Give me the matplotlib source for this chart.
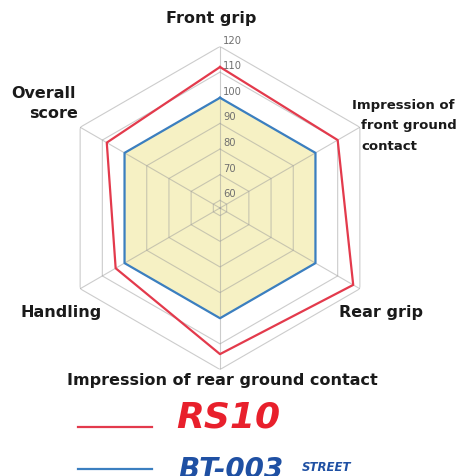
import numpy as np
import matplotlib
matplotlib.use("Agg")
import matplotlib.pyplot as plt
from matplotlib.transforms import offset_copy
from matplotlib.lines import Line2D

categories = ["Front grip", "Impression of front ground contact", "Rear grip",
              "Impression of rear ground contact", "Handling", "Overall score"]
rs10 = [112, 110, 117, 114, 104, 108]
bt003 = [100, 100, 100, 100, 100, 100]
ring_levels = [60, 70, 80, 90, 100, 110, 120]
tick_labels = ["60", "70", "80", "90", "100", "110", "120"]
r_min = 57

W, H = 463, 476
fig = plt.figure(figsize=(W / 100, H / 100), dpi=100)
fig.patch.set_facecolor("white")

cx, cy, R = 220, 208, 161.5
ax = fig.add_axes([(cx - R) / W, 1 - (cy + R) / H, 2 * R / W, 2 * R / H], projection="polar")
ax.set_theta_offset(np.pi / 2)
ax.set_theta_direction(-1)
ax.set_ylim(r_min, 120)
ax.set_axis_off()

n = len(categories)
theta = np.arange(n) * 2 * np.pi / n
theta_c = np.append(theta, theta[0])

def closed(v):
    return np.append(np.asarray(v, float), v[0])

ax.fill(theta_c, closed(bt003), color="#f6f1c4", zorder=1, lw=0)

for lvl in ring_levels:
    ax.plot(theta_c, [lvl] * (n + 1), color="#9a9a9a", alpha=0.5, lw=0.8, zorder=2)
for t in theta:
    ax.plot([t, t], [r_min, 120], color="#9a9a9a", alpha=0.5, lw=0.8, zorder=2)

ax.plot(theta_c, closed(bt003), color="#3b7fc0", lw=1.6, zorder=4)
ax.plot(theta_c, closed(rs10), color="#e33a4c", lw=1.6, zorder=5)

tr = offset_copy(ax.transData, fig=fig, x=3, y=6, units="dots")
for lvl, lab in zip(ring_levels, tick_labels):
    ax.text(0, lvl, lab, transform=tr, ha="left", va="center", fontsize=7.2,
            color="#707070", zorder=6)

def ftext(x, y, s, **kw):
    fig.text(x / W, 1 - y / H, s, **kw)

lab_kw = dict(fontsize=11.5, fontweight="bold", color="#1a1a1a", va="center",
              family="DejaVu Sans")
sm_kw = dict(lab_kw, fontsize=9.5)
ftext(211, 18, "Front grip", ha="center", **lab_kw)
ftext(352, 105, "Impression of", ha="left", **sm_kw)
ftext(361, 126, "front ground", ha="left", **sm_kw)
ftext(361, 146, "contact", ha="left", **sm_kw)
ftext(76, 94, "Overall", ha="right", **lab_kw)
ftext(78, 114, "score", ha="right", **lab_kw)
ftext(20, 312, "Handling", ha="left", **lab_kw)
ftext(423, 312, "Rear grip", ha="right", **lab_kw)
ftext(222, 381, "Impression of rear ground contact", ha="center", **lab_kw)

fig.add_artist(Line2D([78 / W, 152 / W], [1 - 427 / H] * 2, color="#e33a4c", lw=1.6))
fig.add_artist(Line2D([78 / W, 152 / W], [1 - 469 / H] * 2, color="#3b7fc0", lw=1.6))
ftext(176, 428, "RS10", ha="left", fontsize=26, fontweight="heavy", fontstyle="italic",
      color="#e8202c")
ftext(178, 456, "BT-003", ha="left", va="top", fontsize=20, fontweight="heavy",
      fontstyle="italic", color="#1f50a3")
ftext(302, 471, "STREET", ha="left", fontsize=8.5, fontweight="heavy", fontstyle="italic",
      color="#1f50a3")

fig.savefig("out.png", dpi=100, facecolor="white")
